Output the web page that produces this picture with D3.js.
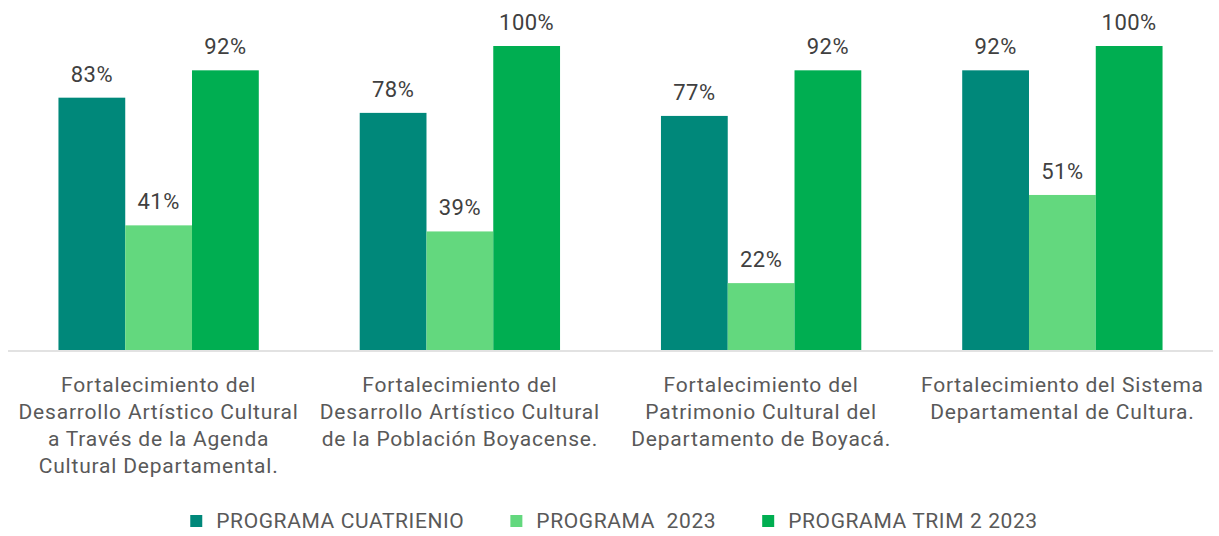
<!DOCTYPE html>
<html lang="es">
<head>
<meta charset="UTF-8" />
<title>Programas</title>
<style>
  body { margin: 0; background: #fff; }
  text { font-family: Roboto, "Noto Sans", sans-serif; }
  .val { fill: #404040; font-size: 22px; letter-spacing: 0.5px; }
  .cat { fill: #595959; font-size: 21px; letter-spacing: 0.8px; }
  .leg { fill: #595959; font-size: 21px; letter-spacing: 0.6px; white-space: pre; }
</style>
</head>
<body>
<div id="chart"></div>
<script src="https://d3js.org/d3.v7.min.js"></script>
<script>
// categories (wrapped lines as in the original)
var categories = [
  ["Fortalecimiento del", "Desarrollo Artístico Cultural", "a Través de la Agenda", "Cultural Departamental."],
  ["Fortalecimiento del", "Desarrollo Artístico Cultural", "de la Población Boyacense."],
  ["Fortalecimiento del", "Patrimonio Cultural del", "Departamento de Boyacá."],
  ["Fortalecimiento del Sistema", "Departamental de Cultura."]
];
var seriesNames = ["PROGRAMA CUATRIENIO", "PROGRAMA  2023", "PROGRAMA TRIM 2 2023"];
var cuatrienio = [0.83, 0.78, 0.77, 0.92];
var prog2023 = [0.41, 0.39, 0.22, 0.51];
var trim2 = [0.92, 1.00, 0.92, 1.00];
var colors = ["#00887a", "#63d87e", "#00ae51"];

var width = 1219, height = 536;
var baseY = 350;

var svg = d3.select("#chart").append("svg")
    .attr("width", width)
    .attr("height", height);

var x0 = d3.scaleBand()
    .domain(d3.range(categories.length))
    .range([8, 1213])
    .paddingInner(0.335)
    .paddingOuter(0.1675);

var x1 = d3.scaleBand()
    .domain(d3.range(seriesNames.length))
    .range([0, x0.bandwidth()]);

var y = d3.scaleLinear().domain([0, 1]).range([baseY, 46]);

var allSeries = [cuatrienio, prog2023, trim2];
var rows = [];
categories.forEach(function(c, i) {
  allSeries.forEach(function(s, j) {
    rows.push({ cat: i, ser: j, v: s[i] });
  });
});

var g = svg.append("g");

g.selectAll("rect.bar")
  .data(rows)
  .enter().append("rect")
    .attr("class", "bar")
    .attr("x", function(d) { return x0(d.cat) + x1(d.ser); })
    .attr("width", x1.bandwidth())
    .attr("y", function(d) { return y(d.v); })
    .attr("height", function(d) { return baseY - y(d.v); })
    .attr("fill", function(d) { return colors[d.ser]; });

g.selectAll("text.val")
  .data(rows)
  .enter().append("text")
    .attr("class", "val")
    .attr("text-anchor", "middle")
    .attr("x", function(d) { return x0(d.cat) + x1(d.ser) + x1.bandwidth() / 2; })
    .attr("y", function(d) { return y(d.v) - 16; })
    .text(function(d) { return d3.format(".0%")(d.v); });

// baseline
svg.append("line")
  .attr("x1", 8).attr("x2", 1213)
  .attr("y1", baseY + 1).attr("y2", baseY + 1)
  .attr("stroke", "#d9d9d9")
  .attr("stroke-width", 1.5);

// category labels
var cat = svg.selectAll("text.cat")
  .data(categories)
  .enter().append("text")
    .attr("class", "cat")
    .attr("text-anchor", "middle")
    .attr("transform", function(d, i) {
      return "translate(" + (x0(i) + x0.bandwidth() / 2) + ",392)";
    });
cat.selectAll("tspan")
  .data(function(d) { return d; })
  .enter().append("tspan")
    .attr("x", 0)
    .attr("y", function(d, i) { return i * 27; })
    .text(function(d) { return d; });

// legend
var leg = svg.append("g");
var lx = 0;
seriesNames.forEach(function(name, i) {
  var item = leg.append("g").attr("transform", "translate(" + lx + ",0)");
  item.append("rect")
    .attr("x", 0).attr("y", -6)
    .attr("width", 12).attr("height", 12)
    .attr("fill", colors[i]);
  var t = item.append("text")
    .attr("class", "leg")
    .attr("x", 26)
    .attr("y", 7)
    .text(name);
  lx += 26 + t.node().getComputedTextLength() + 46;
});
var legW = lx - 46;
leg.attr("transform", "translate(" + (614 - legW / 2) + ",521)");
</script>
</body>
</html>
